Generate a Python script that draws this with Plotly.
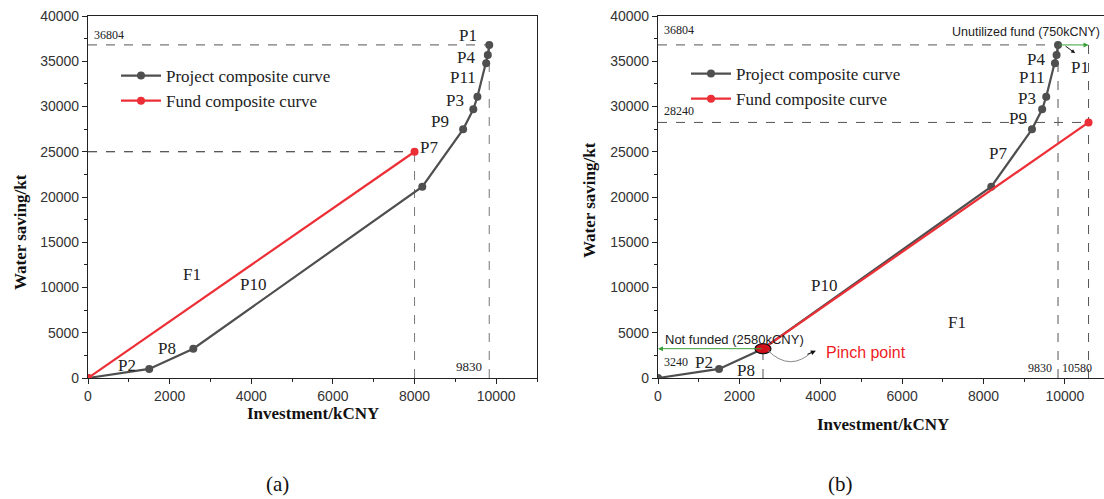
import plotly.graph_objects as go

# ---------------- data ----------------
proj_x = [0, 1500, 2580, 8190, 9190, 9440, 9540, 9755, 9795, 9830]
proj_y = [0, 1000, 3240, 21140, 27480, 29690, 31080, 34770, 35690, 36804]
proj_labels = ["P2", "P8", "P10", "P7", "P9", "P3", "P11", "P4", "P1"]

fund_a_x = [0, 8000]
fund_a_y = [0, 25000]
fund_b_x = [2580, 10580]
fund_b_y = [3240, 28240]

total_invest = 9830
total_water = 36804
fund_a_top = 25000
fund_b_top = 28240
pinch_x = 2580
pinch_y = 3240
fund_b_end = 10580

GREY = "#4f4f4f"
RED = "#ec2f36"
GREEN = "#3aa03a"
DASH = "#555555"
SERIF = "Liberation Serif"
SANS = "Liberation Sans"

fig = go.Figure()

# ---------- panel (a) ----------
fig.add_trace(go.Scatter(x=[0, total_invest], y=[total_water, total_water], mode="lines",
                         line=dict(color=DASH, width=1, dash="dash"), showlegend=False, xaxis="x", yaxis="y"))
fig.add_trace(go.Scatter(x=[total_invest, total_invest], y=[0, total_water], mode="lines",
                         line=dict(color="#777777", width=1, dash="dash"), showlegend=False, xaxis="x", yaxis="y"))
fig.add_trace(go.Scatter(x=[0, fund_a_x[1]], y=[fund_a_top, fund_a_top], mode="lines",
                         line=dict(color="#222222", width=1, dash="dash"), showlegend=False, xaxis="x", yaxis="y"))
fig.add_trace(go.Scatter(x=[fund_a_x[1], fund_a_x[1]], y=[0, fund_a_top], mode="lines",
                         line=dict(color="#777777", width=1, dash="dash"), showlegend=False, xaxis="x", yaxis="y"))
fig.add_trace(go.Scatter(x=proj_x, y=proj_y, mode="lines+markers", name="Project composite curve",
                         line=dict(color=GREY, width=2.2), marker=dict(size=8, color=GREY),
                         legend="legend", xaxis="x", yaxis="y"))
fig.add_trace(go.Scatter(x=fund_a_x, y=fund_a_y, mode="lines+markers", name="Fund composite curve",
                         line=dict(color=RED, width=2.2), marker=dict(size=8, color=RED),
                         legend="legend", xaxis="x", yaxis="y"))

# ---------- panel (b) ----------
fig.add_trace(go.Scatter(x=[0, total_invest], y=[total_water, total_water], mode="lines",
                         line=dict(color=DASH, width=1, dash="dash"), showlegend=False, xaxis="x2", yaxis="y2"))
fig.add_trace(go.Scatter(x=[total_invest, total_invest], y=[0, total_water], mode="lines",
                         line=dict(color=DASH, width=1, dash="dash"), showlegend=False, xaxis="x2", yaxis="y2"))
fig.add_trace(go.Scatter(x=[fund_b_end, fund_b_end], y=[0, total_water], mode="lines",
                         line=dict(color=DASH, width=1, dash="dash"), showlegend=False, xaxis="x2", yaxis="y2"))
fig.add_trace(go.Scatter(x=[0, fund_b_end], y=[fund_b_top, fund_b_top], mode="lines",
                         line=dict(color=DASH, width=1, dash="dash"), showlegend=False, xaxis="x2", yaxis="y2"))
fig.add_trace(go.Scatter(x=[pinch_x, pinch_x], y=[0, pinch_y], mode="lines",
                         line=dict(color=DASH, width=1, dash="dash"), showlegend=False, xaxis="x2", yaxis="y2"))
fig.add_trace(go.Scatter(x=proj_x, y=proj_y, mode="lines+markers", name="Project composite curve",
                         line=dict(color=GREY, width=2.2), marker=dict(size=8, color=GREY),
                         legend="legend2", xaxis="x2", yaxis="y2"))
fig.add_trace(go.Scatter(x=fund_b_x, y=fund_b_y, mode="lines+markers", name="Fund composite curve",
                         line=dict(color=RED, width=2.2), marker=dict(size=8, color=RED),
                         legend="legend2", xaxis="x2", yaxis="y2"))

# pinch ellipse
fig.add_shape(type="circle", xref="x2", yref="y2", xsizemode="pixel", ysizemode="pixel",
              xanchor=pinch_x, yanchor=pinch_y, x0=-8, x1=8, y0=-5, y1=5,
              fillcolor="#d0101a", line=dict(color="#111111", width=1.2))
# curved pinch arrow
fig.add_shape(type="path", xref="x2", yref="y2",
              path="M 2700,3050 Q 3250,600 3800,2950", line=dict(color="#888888", width=1))

# ---------------- annotations ----------------
ann = []
def lab(text, x, y, xr, yr, size=17, font=SERIF, color="#222222", xanchor="center", **kw):
    ann.append(dict(text=text, x=x, y=y, xref=xr, yref=yr, showarrow=False,
                    font=dict(family=font, size=size, color=color), xanchor=xanchor, **kw))

# (a) labels
a_pos = {"P1": (9314, 37800), "P4": (9265, 35400), "P11": (9191, 33200), "P3": (8995, 30700),
         "P9": (8627, 28300), "P7": (8358, 25500), "P10": (4044, 10280), "P2": (956, 1436),
         "P8": (1936, 3315)}
for k in proj_labels:
    lab(k, a_pos[k][0], a_pos[k][1], "x", "y")
lab("F1", 2549, 11490, "x", "y")
lab(str(total_water), 100, 37900, "x", "y", size=12, xanchor="left")
lab(str(total_invest), 9338, 1250, "x", "y", size=13)

# (b) labels
b_pos = {"P1": (10370, 34300), "P4": (9280, 35150), "P11": (9190, 33240), "P3": (9064, 30910),
         "P9": (8842, 28700), "P7": (8350, 24820), "P10": (4089, 10190), "P2": (1133, 1660),
         "P8": (2167, 776)}
for k in proj_labels:
    lab(k, b_pos[k][0], b_pos[k][1], "x2", "y2")
lab("F1", 7340, 6090, "x2", "y2")
lab(str(total_water), 90, 38450, "x2", "y2", size=12, xanchor="left")
lab(str(fund_b_top), 90, 29470, "x2", "y2", size=12, xanchor="left")
lab(str(pinch_y), 90, 1800, "x2", "y2", size=12, xanchor="left")
lab(str(total_invest), 9384, 1100, "x2", "y2", size=12)
lab(str(fund_b_end), 10296, 1100, "x2", "y2", size=12)
lab("Unutilized fund (750kCNY)", 10920, 38230, "x2", "y2", size=12.5, font=SANS, xanchor="right")
lab("Not funded (2580kCNY)", 1872, 4300, "x2", "y2", size=13, font=SANS)
lab("Pinch point", 5123, 2770, "x2", "y2", size=16, font=SANS, color="#ee1c25")

# arrows (b)
ann.append(dict(x=0, y=pinch_y, ax=pinch_x, ay=pinch_y, xref="x2", yref="y2", axref="x2", ayref="y2",
                text="", showarrow=True, arrowhead=2, arrowsize=1, arrowwidth=1, arrowcolor=GREEN))
ann.append(dict(x=fund_b_end, y=total_water, ax=total_invest, ay=total_water, xref="x2", yref="y2",
                axref="x2", ayref="y2", text="", showarrow=True, arrowhead=2, arrowsize=1,
                arrowwidth=1, arrowcolor=GREEN))
ann.append(dict(x=3880, y=3000, ax=-10, ay=4, xref="x2", yref="y2", text="", showarrow=True,
                arrowhead=2, arrowsize=1, arrowwidth=1, arrowcolor="#111111"))
ann.append(dict(x=10250, y=35900, ax=-11, ay=-8, xref="x2", yref="y2", text="", showarrow=True,
                arrowhead=2, arrowsize=0.8, arrowwidth=1, arrowcolor="#111111"))

# axis titles and captions (paper)
def ptxt(text, x, y, size, bold=False, angle=0):
    ann.append(dict(text=f"<b>{text}</b>" if bold else text, x=x, y=y, xref="paper", yref="paper",
                    showarrow=False, textangle=angle, xanchor="center", yanchor="middle",
                    font=dict(family=SERIF, size=size, color="#111111")))
ptxt("Investment/kCNY", 313 / 1104, (499 - 413) / 499, 17, bold=True)
ptxt("Investment/kCNY", 883 / 1104, (499 - 424) / 499, 17, bold=True)
ptxt("Water saving/kt", 20 / 1104, (499 - 232) / 499, 17, bold=True, angle=-90)
ptxt("Water saving/kt", 590 / 1104, (499 - 200) / 499, 17, bold=True, angle=-90)
ptxt("(a)", 277 / 1104, (499 - 484) / 499, 21)
ptxt("(b)", 840 / 1104, (499 - 484) / 499, 21)

axis_common = dict(showgrid=False, zeroline=False, showline=True, linecolor="#222222", linewidth=1.2,
                   mirror=True, ticks="outside", ticklen=5, tickcolor="#222222", automargin=False,
                   tickformat="d", tickfont=dict(family=SANS, size=14, color="#333333"))
ydom = [(499 - 378) / 499, (499 - 16) / 499]

fig.update_layout(
    width=1104, height=499, margin=dict(l=0, r=0, t=0, b=0, pad=0, autoexpand=False),
    paper_bgcolor="white", plot_bgcolor="white",
    xaxis=dict(domain=[88 / 1104, 537 / 1104], range=[0, 11000], dtick=2000,
               minor=dict(dtick=1000, ticks="outside", ticklen=3, tickcolor="#222222"), anchor="y",
               **axis_common),
    yaxis=dict(domain=ydom, range=[0, 40000], dtick=5000,
               minor=dict(dtick=2500, ticks="outside", ticklen=3, tickcolor="#222222"), anchor="x",
               **axis_common),
    xaxis2=dict(domain=[658 / 1104, 1.0], range=[0, 10960], dtick=2000,
                minor=dict(dtick=1000, ticks="outside", ticklen=3, tickcolor="#222222"), anchor="y2",
                **axis_common),
    yaxis2=dict(domain=ydom, range=[0, 40000], dtick=5000,
                minor=dict(dtick=2500, ticks="outside", ticklen=3, tickcolor="#222222"), anchor="x2",
                **axis_common),
    legend=dict(x=116 / 1104, y=(499 - 58) / 499, xanchor="left", yanchor="top",
                bgcolor="rgba(0,0,0,0)", font=dict(family=SERIF, size=17, color="#222222"),
                tracegroupgap=0, itemwidth=40),
    legend2=dict(x=686 / 1104, y=(499 - 56) / 499, xanchor="left", yanchor="top",
                 bgcolor="rgba(0,0,0,0)", font=dict(family=SERIF, size=17, color="#222222"),
                 tracegroupgap=0, itemwidth=40),
    annotations=ann,
)

fig.write_html("out.html", config={"displayModeBar": False},
               post_script="document.body.style.margin='0px';")
